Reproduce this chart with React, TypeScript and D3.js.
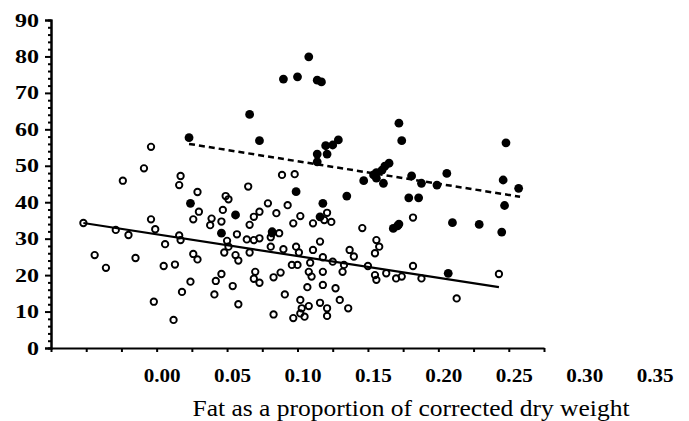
import React, { useRef, useEffect } from "react";
import * as d3 from "d3";

// open circles: [fat proportion, value]
const openPoints = [
	[-0.052, 34.3], [-0.044, 25.5], [-0.036, 22.0], [-0.029, 32.4], [-0.020, 31.0], [-0.024, 45.9],
	[-0.009, 49.3], [-0.004, 55.2], [-0.015, 24.7], [-0.004, 35.3], [-0.001, 32.6], [-0.002, 12.7],
	[0.006, 28.5], [0.005, 22.5], [0.013, 22.9], [0.012, 7.7], [0.016, 30.9], [0.017, 29.6],
	[0.017, 47.2], [0.016, 44.7], [0.018, 15.4], [0.024, 18.2], [0.026, 25.8], [0.029, 24.3],
	[0.029, 42.8], [0.030, 37.4], [0.026, 35.3], [0.038, 33.7], [0.039, 35.5], [0.046, 34.7],
	[0.047, 37.9], [0.049, 41.7], [0.051, 40.8], [0.042, 18.4], [0.046, 20.3], [0.041, 14.7],
	[0.050, 29.4], [0.051, 27.8], [0.048, 26.2], [0.054, 17.0], [0.057, 31.2], [0.056, 25.5],
	[0.058, 24.0], [0.058, 12.0], [0.064, 29.8], [0.069, 29.6], [0.066, 26.2], [0.065, 44.3],
	[0.069, 36.0], [0.066, 33.8], [0.073, 37.4], [0.070, 20.9], [0.069, 19.0], [0.073, 30.1],
	[0.073, 17.9], [0.079, 39.7], [0.085, 37.0], [0.093, 39.2], [0.089, 47.5], [0.098, 47.7],
	[0.081, 30.4], [0.082, 31.5], [0.087, 31.5], [0.081, 27.8], [0.090, 27.1], [0.099, 27.8],
	[0.101, 26.2], [0.102, 36.2], [0.097, 34.2], [0.111, 34.2], [0.121, 37.1], [0.119, 35.1],
	[0.124, 34.6], [0.111, 26.9], [0.116, 29.2], [0.096, 22.8], [0.100, 22.8], [0.088, 20.7],
	[0.083, 19.4], [0.083, 9.2], [0.091, 14.7], [0.109, 23.4], [0.108, 20.9], [0.110, 19.6],
	[0.118, 20.9], [0.118, 24.9], [0.107, 16.7], [0.118, 17.3], [0.127, 16.4], [0.102, 13.2],
	[0.103, 10.9], [0.108, 11.5], [0.116, 12.4], [0.121, 10.9], [0.130, 13.2], [0.136, 10.9],
	[0.097, 8.2], [0.102, 9.5], [0.105, 8.6], [0.121, 8.8], [0.125, 23.7], [0.133, 22.8],
	[0.132, 20.9], [0.137, 26.9], [0.140, 25.1], [0.146, 32.9], [0.156, 29.6], [0.158, 27.8],
	[0.155, 26.0], [0.150, 22.5], [0.155, 20.0], [0.156, 18.7], [0.163, 20.5], [0.170, 19.1],
	[0.174, 19.6], [0.182, 22.5], [0.188, 19.1], [0.182, 35.8], [0.243, 20.3], [0.213, 13.6]
];

// filled circles
const filledPoints = [
	[0.023, 57.7], [0.066, 64.1], [0.073, 56.9], [0.090, 73.8], [0.100, 74.4], [0.108, 79.9],
	[0.114, 73.5], [0.117, 73.0], [0.129, 57.1], [0.125, 55.7], [0.120, 55.5], [0.121, 53.2],
	[0.114, 53.2], [0.114, 51.1], [0.099, 42.9], [0.135, 41.7], [0.024, 39.7], [0.118, 39.7],
	[0.056, 36.5], [0.116, 36.0], [0.046, 31.5], [0.082, 31.9], [0.172, 61.7], [0.174, 56.9],
	[0.248, 56.3], [0.165, 50.7], [0.162, 49.9], [0.160, 48.8], [0.156, 48.1], [0.154, 47.5],
	[0.156, 46.6], [0.161, 45.2], [0.147, 45.9], [0.181, 47.2], [0.188, 45.2], [0.199, 44.7],
	[0.206, 47.9], [0.246, 46.1], [0.257, 43.8], [0.179, 41.2], [0.186, 41.2], [0.247, 39.1],
	[0.210, 34.4], [0.229, 33.9], [0.245, 31.8], [0.168, 32.8], [0.171, 33.5], [0.172, 34.0],
	[0.207, 20.5]
];

// fitted lines (end points)
const openFit = [[-0.052, 34.3], [0.243, 16.7]];
const filledFit = [[0.023, 56.0], [0.258, 41.5]];

const xTickLabels = [0.00, 0.05, 0.10, 0.15, 0.20, 0.25, 0.30, 0.35];
const yTickLabels = [0, 10, 20, 30, 40, 50, 60, 70, 80, 90];

export default function App() {

	const refChart = useRef(null);

	let layout = {"width": 689,
				  "height": 421,
				  "left": 51,
				  "right": 544,
				  "top": 20,
				  "bottom": 348};

	useEffect(() => {

		let svg = d3.select(refChart.current);

		let xScale = d3.scaleLinear()
					.domain([-0.075, 0.275])
					.range([layout.left, layout.right]);

		let yScale = d3.scaleLinear()
					.domain([0, 90])
					.range([layout.bottom, layout.top]);

		let serif = "'Liberation Serif', 'Times New Roman', serif";

		// y axis with minor ticks every 2
		let yAxis = d3.axisLeft(yScale)
					.tickValues(yTickLabels)
					.tickSize(6)
					.tickFormat(d3.format("d"));

		let yMinor = d3.axisLeft(yScale)
					.tickValues(d3.range(0, 91, 2).filter(v => v % 10 !== 0))
					.tickSize(3)
					.tickFormat(() => "");

		svg.select("#yMinor")
			.attr("transform", `translate(${layout.left}, 0)`)
			.call(yMinor);

		svg.select("#yAxis")
			.attr("transform", `translate(${layout.left}, 0)`)
			.call(yAxis);

		// scanned figure is a bit wide, so stretch the digits
		svg.selectAll("#yAxis text")
			.attr("font-family", serif)
			.attr("font-weight", "bold")
			.attr("font-size", 19)
			.attr("fill", "black")
			.attr("dx", "-3")
			.attr("textLength", d => d >= 10 ? 24 : 12)
			.attr("lengthAdjust", "spacingAndGlyphs");

		// x axis: ticks every 0.025, labels drawn separately
		let xAxis = d3.axisBottom(xScale)
					.tickValues(d3.range(0, 15).map(i => -0.075 + i * 0.025))
					.tickSize(4)
					.tickSizeOuter(0)
					.tickFormat(() => "");

		svg.select("#xAxis")
			.attr("transform", `translate(0, ${layout.bottom})`)
			.call(xAxis);

		svg.selectAll("#xAxis path, #yAxis path, #yMinor path, .tick line")
			.attr("stroke", "black")
			.attr("stroke-width", 2);

		svg.select("#xLabels")
			.selectAll("text")
			.data(xTickLabels)
			.join("text")
			.attr("x", d => xScale(d) + 5.5)
			.attr("y", layout.bottom + 34)
			.attr("text-anchor", "middle")
			.attr("font-family", serif)
			.attr("font-weight", "bold")
			.attr("font-size", 18)
			.attr("textLength", 37)
			.attr("lengthAdjust", "spacingAndGlyphs")
			.text(d => d3.format(".2f")(d));

		svg.select("#xTitle")
			.attr("x", 411)
			.attr("y", 416)
			.attr("text-anchor", "middle")
			.attr("font-family", serif)
			.attr("font-size", 23)
			.attr("textLength", 437)
			.attr("lengthAdjust", "spacingAndGlyphs");

		let line = d3.line()
					.x(d => xScale(d[0]))
					.y(d => yScale(d[1]));

		svg.select("#fits")
			.selectAll("path")
			.data([openFit, filledFit])
			.join("path")
			.attr("d", line)
			.attr("fill", "none")
			.attr("stroke", "black")
			.attr("stroke-width", (d, i) => i === 0 ? 2.2 : 2.5)
			.attr("stroke-dasharray", (d, i) => i === 0 ? null : "6,4");

		svg.select("#openPts")
			.selectAll("circle")
			.data(openPoints)
			.join("circle")
			.attr("cx", d => xScale(d[0]))
			.attr("cy", d => yScale(d[1]))
			.attr("r", 3.2)
			.attr("fill", "none")
			.attr("stroke", "black")
			.attr("stroke-width", 1.9);

		svg.select("#filledPts")
			.selectAll("circle")
			.data(filledPoints)
			.join("circle")
			.attr("cx", d => xScale(d[0]))
			.attr("cy", d => yScale(d[1]))
			.attr("r", 4.4)
			.attr("fill", "black");

	}, [])

	return (
		<div style={{position: "absolute", left: 0, top: 0}}>
			<svg ref={refChart} width={layout.width} height={layout.height} style={{background: "white", display: "block"}}>
				<g id="yMinor" />
				<g id="yAxis" />
				<g id="xAxis" />
				<g id="xLabels" />
				<text id="xTitle">Fat as a proportion of corrected dry weight</text>
				<g id="fits" />
				<g id="openPts" />
				<g id="filledPts" />
			</svg>
		</div>
	)

}
